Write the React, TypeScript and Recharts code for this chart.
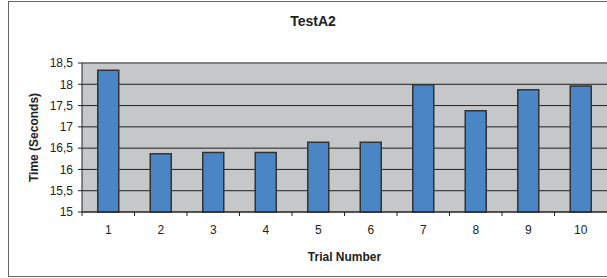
import { BarChart, Bar, XAxis, YAxis, CartesianGrid, ReferenceLine } from 'recharts'

const trials = ['1', '2', '3', '4', '5', '6', '7', '8', '9', '10']
const times = [18.33, 16.37, 16.4, 16.4, 16.64, 16.64, 17.99, 17.38, 17.87, 17.96]
const yTicks = [15, 15.5, 16, 16.5, 17, 17.5, 18, 18.5]

const data = trials.map((t, i) => ({ trial: t, time: times[i] }))

const W = 607
const H = 278
const LEFT = 82
const BAND = (W - LEFT) / trials.length
const FONT = '"Liberation Sans", Arial, sans-serif'

function TrialTick({ x, y, payload }: any) {
  return (
    <g>
      <line x1={x - BAND / 2} x2={x - BAND / 2} y1={y} y2={y + 4} stroke="#222" />
      <text x={x} y={y + 22} textAnchor="middle" fontSize={12} fill="#222" fontFamily={FONT}>
        {payload.value}
      </text>
    </g>
  )
}

export default function App() {
  return (
    <div style={{ position: 'absolute', left: 0, top: 0, width: W, height: H, background: '#fff', overflow: 'hidden' }}>
      <div style={{ position: 'absolute', left: 8, top: 1, width: 640, height: 274, border: '1px solid #666' }} />
      <div
        style={{
          position: 'absolute', left: 0, top: 13, width: 626, textAlign: 'center',
          fontFamily: FONT, fontWeight: 'bold', fontSize: 14, color: '#222',
        }}
      >
        TestA2
      </div>
      <div style={{ position: 'absolute', left: 0, top: 0 }}>
        <BarChart width={W + 2} height={H} data={data} margin={{ top: 63, right: 2, bottom: 16, left: 32 }} barCategoryGap="30%">
          <CartesianGrid vertical={false} fill="#c6c7c9" stroke="#222" horizontalValues={yTicks} />
          <ReferenceLine y={18.5} stroke="#808080" strokeWidth={2} />
          <XAxis
            dataKey="trial"
            height={50}
            axisLine={{ stroke: '#222' }}
            tickLine={false}
            tickSize={0}
            tickMargin={0}
            interval={0}
            tick={<TrialTick />}
            label={{ value: 'Trial Number', position: 'insideBottom', offset: 1, fontFamily: FONT, fontWeight: 'bold', fontSize: 12, fill: '#222' }}
          />
          <YAxis
            width={50}
            domain={[15, 18.5]}
            ticks={yTicks}
            interval={0}
            tickFormatter={(v: number) => String(v).replace('.', ',')}
            axisLine={{ stroke: '#222' }}
            tickLine={{ stroke: '#222' }}
            tickSize={4}
            tickMargin={5}
            tick={{ fontFamily: FONT, fontSize: 12, fill: '#222' }}
            label={{ value: 'Time (Seconds)', angle: -90, position: 'insideLeft', offset: 2, style: { textAnchor: 'middle' }, fontFamily: FONT, fontWeight: 'bold', fontSize: 12, fill: '#222' }}
          />
          <Bar dataKey="time" fill="#4a86c6" stroke="#333" strokeWidth={1.5} isAnimationActive={false} />
        </BarChart>
      </div>
    </div>
  )
}
